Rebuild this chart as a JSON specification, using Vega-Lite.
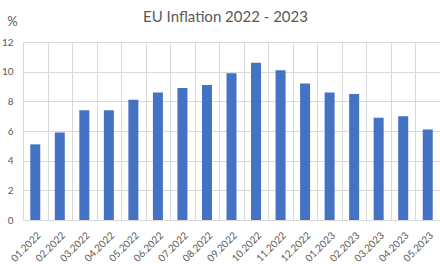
{
  "$schema": "https://vega.github.io/schema/vega-lite/v6.json",
  "width": 417,
  "height": 178,
  "autosize": {"type": "none"},
  "padding": {"left": 23, "top": 42, "right": 0, "bottom": 44},
  "background": "white",
  "title": {
    "text": "EU Inflation 2022 - 2023",
    "font": "Lato",
    "fontSize": 15,
    "fontWeight": "normal",
    "color": "#595959",
    "anchor": "middle",
    "baseline": "alphabetic",
    "dx": -6,
    "offset": -22
  },
  "data": {
    "values": [
      {"month": "01.2022", "value": 5.1},
      {"month": "02.2022", "value": 5.9},
      {"month": "03.2022", "value": 7.4},
      {"month": "04.2022", "value": 7.4},
      {"month": "05.2022", "value": 8.1},
      {"month": "06.2022", "value": 8.6},
      {"month": "07.2022", "value": 8.9},
      {"month": "08.2022", "value": 9.1},
      {"month": "09.2022", "value": 9.9},
      {"month": "10.2022", "value": 10.6},
      {"month": "11.2022", "value": 10.1},
      {"month": "12.2022", "value": 9.2},
      {"month": "01.2023", "value": 8.6},
      {"month": "02.2023", "value": 8.5},
      {"month": "03.2023", "value": 6.9},
      {"month": "04.2023", "value": 7.0},
      {"month": "05.2023", "value": 6.1}
    ]
  },
  "mark": {"type": "bar", "color": "#4472C4", "size": 10},
  "encoding": {
    "x": {
      "field": "month",
      "type": "ordinal",
      "sort": null,
      "scale": {"paddingInner": 0, "paddingOuter": 0},
      "axis": {
        "title": null,
        "labelAngle": -45,
        "labelAlign": "right",
        "labelBaseline": "top",
        "labelFont": "Lato",
        "labelFontSize": 10,
        "labelColor": "#595959",
        "labelPadding": 10,
        "tickBand": "extent",
        "ticks": false,
        "grid": true,
        "gridColor": "#d9d9d9",
        "domainColor": "#d9d9d9"
      }
    },
    "y": {
      "field": "value",
      "type": "quantitative",
      "scale": {"domain": [0, 12]},
      "axis": {
        "values": [0, 2, 4, 6, 8, 10, 12],
        "title": "%",
        "titleAngle": 0,
        "titleX": -11,
        "titleY": -17,
        "titleAlign": "center",
        "titleBaseline": "alphabetic",
        "titleFont": "Lato",
        "titleFontSize": 13,
        "titleFontWeight": "normal",
        "titleColor": "#595959",
        "labelFont": "Lato",
        "labelFontSize": 10,
        "labelColor": "#595959",
        "labelPadding": 10,
        "ticks": false,
        "domain": false,
        "gridColor": "#d9d9d9"
      }
    }
  },
  "config": {"view": {"stroke": null}}
}
